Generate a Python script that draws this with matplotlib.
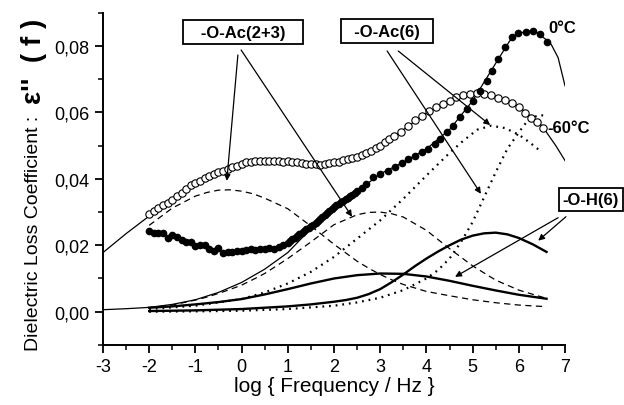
import numpy as np
import matplotlib
matplotlib.use("Agg")
import matplotlib.pyplot as plt
from matplotlib.ticker import MultipleLocator, FuncFormatter, FixedLocator

plt.rcParams['font.family'] = ['Liberation Sans', 'DejaVu Sans']

# measured data, -60 C (open circles)
x_m60 = [-2.0, -1.9, -1.8, -1.7, -1.6, -1.5, -1.4, -1.3, -1.2, -1.1, -1.0, -0.9, -0.8, -0.7, -0.6,
         -0.5, -0.4, -0.3, -0.2, -0.1, 0.0, 0.1, 0.2, 0.3, 0.4, 0.5, 0.6, 0.7, 0.8, 0.9, 1.0, 1.1,
         1.2, 1.3, 1.4, 1.5, 1.6, 1.7, 1.8, 1.9, 2.0, 2.1, 2.2, 2.3, 2.4, 2.5, 2.6, 2.7, 2.8, 2.9,
         3.0, 3.1, 3.2, 3.3, 3.45, 3.6, 3.75, 3.9, 4.05, 4.2, 4.35, 4.5, 4.65, 4.8, 4.95, 5.1, 5.25,
         5.4, 5.55, 5.7, 5.85, 6.0, 6.13, 6.27, 6.4, 6.52]
y_m60 = [0.0295, 0.0302, 0.0313, 0.0320, 0.0326, 0.0336, 0.0348, 0.0358, 0.0370, 0.0382, 0.0389,
         0.0395, 0.0402, 0.0409, 0.0414, 0.0420, 0.0425, 0.0431, 0.0436, 0.0440, 0.0446, 0.0450,
         0.0452, 0.0454, 0.0455, 0.0454, 0.0455, 0.0453, 0.0455, 0.0452, 0.0454, 0.0450, 0.0452,
         0.0448, 0.0446, 0.0444, 0.0446, 0.0443, 0.0446, 0.0448, 0.0450, 0.0452, 0.0456, 0.0460,
         0.0464, 0.0467, 0.0472, 0.0478, 0.0484, 0.0492, 0.0500, 0.0510, 0.0520, 0.0530, 0.0542,
         0.0560, 0.0576, 0.0590, 0.0603, 0.0615, 0.0625, 0.0635, 0.0645, 0.0652, 0.0657, 0.0659,
         0.0656, 0.0651, 0.0643, 0.0636, 0.0628, 0.0615, 0.0597, 0.0582, 0.0572, 0.0552]

# measured data, 0 C (filled circles)
x_0 = [-2.0, -1.9, -1.8, -1.7, -1.6, -1.5, -1.4, -1.3, -1.2, -1.1, -1.0, -0.9, -0.8, -0.7, -0.6,
       -0.5, -0.4, -0.3, -0.2, -0.1, 0.0, 0.1, 0.2, 0.3, 0.4, 0.5, 0.6, 0.7, 0.8, 0.9, 1.0, 1.05,
       1.1, 1.15, 1.2, 1.25, 1.3, 1.35, 1.4, 1.45, 1.5, 1.55, 1.6, 1.65, 1.7, 1.75, 1.8, 1.85, 1.9,
       1.95, 2.0, 2.05, 2.1, 2.15, 2.2, 2.25, 2.3, 2.35, 2.4, 2.45, 2.5, 2.6, 2.7, 2.85, 3.0, 3.17,
       3.32, 3.47, 3.6, 3.75, 3.9, 4.03, 4.19, 4.3, 4.45, 4.58, 4.73, 4.88, 5.0, 5.16, 5.31, 5.42,
       5.55, 5.7, 5.85, 5.98, 6.16, 6.31, 6.46, 6.6]
y_0 = [0.0243, 0.0238, 0.0238, 0.0238, 0.0222, 0.0232, 0.0226, 0.0215, 0.0211, 0.0210, 0.0198,
       0.0201, 0.0200, 0.0190, 0.0183, 0.0192, 0.0177, 0.0180, 0.0180, 0.0182, 0.0184, 0.0186,
       0.0188, 0.0186, 0.0190, 0.0188, 0.0192, 0.0190, 0.0194, 0.0200, 0.0208, 0.0212, 0.0218,
       0.0223, 0.0228, 0.0233, 0.0238, 0.0243, 0.0248, 0.0252, 0.0257, 0.0262, 0.0268, 0.0274,
       0.0279, 0.0285, 0.0290, 0.0296, 0.0302, 0.0308, 0.0315, 0.0320, 0.0324, 0.0329, 0.0333,
       0.0338, 0.0342, 0.0347, 0.0352, 0.0357, 0.0362, 0.0372, 0.0385, 0.0405, 0.0415, 0.0424,
       0.0436, 0.0448, 0.0460, 0.0470, 0.0480, 0.0490, 0.0505, 0.0520, 0.0540, 0.0560, 0.0586,
       0.0610, 0.0635, 0.0665, 0.0695, 0.0725, 0.0760, 0.0797, 0.0827, 0.0839, 0.0842, 0.0845,
       0.0836, 0.0812]

# total fits
xfit_m60 = [-3.0, -2.5, -2.0, -1.5, -1.0, -0.5, 0.0, 0.5, 1.0, 1.5, 2.0, 2.5, 3.0, 3.5, 4.0, 4.5,
            5.0, 5.2, 5.5, 6.0, 6.5, 6.8, 7.0]
yfit_m60 = [0.0178, 0.0235, 0.0288, 0.0338, 0.0385, 0.0420, 0.0444, 0.0453, 0.0452, 0.0445,
            0.0450, 0.0468, 0.0500, 0.0548, 0.0598, 0.0635, 0.0656, 0.0658, 0.0648, 0.0618,
            0.0560, 0.0500, 0.0455]
xfit_0 = [-3.0, -2.5, -2.0, -1.5, -1.0, -0.5, 0.0, 0.5, 1.0, 1.5, 2.0, 2.5, 3.0, 3.5, 4.0, 4.5,
          5.0, 5.5, 5.8, 6.0, 6.2, 6.4, 6.6, 6.7, 6.85, 7.0]
yfit_0 = [0.0006, 0.0009, 0.0013, 0.0022, 0.0036, 0.0058, 0.0088, 0.0128, 0.0178, 0.0250,
          0.0315, 0.0362, 0.0415, 0.0450, 0.0490, 0.0548, 0.0635, 0.0748, 0.0815, 0.0838,
          0.0845, 0.0840, 0.0818, 0.0805, 0.0765, 0.0680]

# components: -O-Ac(2+3)
x_ac23 = [-2.0, -1.5, -1.0, -0.75, -0.5, -0.25, 0.0, 0.25, 0.5, 1.0, 1.5, 2.0, 2.5, 2.75, 3.0,
          3.25, 3.5, 4.0, 4.5, 5.0, 5.5, 6.0, 6.6]
ac23_m60 = [0.0260, 0.0312, 0.0348, 0.0359, 0.0366, 0.0367, 0.0363, 0.0355, 0.0342, 0.0310,
            0.0258, 0.0203, 0.0152, 0.0131, 0.0112, 0.0096, 0.0082, 0.0061, 0.0048, 0.0036,
            0.0027, 0.0020, 0.0015]
ac23_0 = [0.0012, 0.0020, 0.0035, 0.0044, 0.0055, 0.0067, 0.0080, 0.0097, 0.0115, 0.0160,
          0.0210, 0.0262, 0.0292, 0.0299, 0.0300, 0.0295, 0.0285, 0.0245, 0.0190, 0.0138,
          0.0095, 0.0065, 0.0040]

# components: -O-Ac(6)
x_ac6_m60 = [-2.0, -1.0, 0.0, 0.5, 1.0, 1.5, 2.0, 2.5, 3.0, 3.5, 4.0, 4.5, 4.8, 5.1, 5.4, 5.7,
             6.0, 6.25, 6.5]
ac6_m60 = [0.0008, 0.0018, 0.0038, 0.0058, 0.0085, 0.0120, 0.0165, 0.0220, 0.0275, 0.0340,
           0.0410, 0.0478, 0.0515, 0.0548, 0.0560, 0.0553, 0.0533, 0.0508, 0.0480]
x_ac6_0 = [-2.0, -1.0, 0.0, 1.0, 2.0, 2.5, 3.0, 3.5, 4.0, 4.25, 4.5, 4.75, 5.0, 5.25, 5.5,
           5.75, 6.0, 6.15, 6.3, 6.45, 6.6]
ac6_0 = [0.0, 0.0001, 0.0003, 0.0008, 0.0018, 0.0028, 0.0042, 0.0065, 0.0100, 0.0125, 0.0160,
         0.0210, 0.0270, 0.0345, 0.0420, 0.0490, 0.0540, 0.0568, 0.0585, 0.0592, 0.0590]

# components: -O-H(6)
x_oh_m60 = [-2.0, -1.5, -1.0, -0.5, 0.0, 0.5, 1.0, 1.5, 2.0, 2.5, 3.0, 3.5, 4.0, 4.5, 5.0,
            5.5, 6.0, 6.6]
oh_m60 = [0.0012, 0.0016, 0.0022, 0.0029, 0.0038, 0.0052, 0.0068, 0.0085, 0.0100, 0.0110,
          0.0115, 0.0114, 0.0106, 0.0093, 0.0078, 0.0064, 0.0051, 0.0039]
x_oh_0 = [-2.0, -1.0, 0.0, 1.0, 1.5, 2.0, 2.25, 2.5, 2.75, 3.0, 3.25, 3.5, 3.75, 4.0, 4.25, 4.5,
          4.75, 5.0, 5.25, 5.5, 5.75, 6.0, 6.3, 6.6]
oh_0 = [0.0002, 0.0004, 0.0008, 0.0016, 0.0022, 0.0030, 0.0035, 0.0042, 0.0053, 0.0068,
        0.0089, 0.0112, 0.0137, 0.0160, 0.0181, 0.0200, 0.0217, 0.0229, 0.0236, 0.0238,
        0.0233, 0.0222, 0.0203, 0.0180]

fig = plt.figure(figsize=(6.24, 4.06), dpi=100)
ax = fig.add_axes([0.165, 0.148, 0.7405, 0.818])

# components
ax.plot(x_ac23, ac23_m60, color='k', lw=0.9, dashes=(5, 3.5))
ax.plot(x_ac23, ac23_0, color='k', lw=0.9, dashes=(5, 3.5))
ax.plot(x_ac6_m60, ac6_m60, color='k', lw=1.6, linestyle=(0, (0.8, 2.2)))
ax.plot(x_ac6_0, ac6_0, color='k', lw=1.6, linestyle=(0, (0.8, 2.2)))
ax.plot(x_oh_m60, oh_m60, color='k', lw=1.7)
ax.plot(x_oh_0, oh_0, color='k', lw=1.7)

# fits
ax.plot(xfit_m60, yfit_m60, color='k', lw=0.9)
ax.plot(xfit_0, yfit_0, color='k', lw=0.9)

# data
ax.plot(x_m60, y_m60, 'o', ms=5.3, mfc='white', mec='k', mew=0.8)
ax.plot(x_0, y_0, 'o', ms=4.5, mfc='k', mec='k')

ax.set_xlim(-3, 7)
ax.set_ylim(-0.01, 0.09)
ax.xaxis.set_major_locator(MultipleLocator(1))
ax.xaxis.set_minor_locator(MultipleLocator(0.5))
ax.yaxis.set_major_locator(FixedLocator([0.0, 0.02, 0.04, 0.06, 0.08]))
ax.yaxis.set_minor_locator(FixedLocator([-0.01, 0.01, 0.03, 0.05, 0.07, 0.09]))
ax.yaxis.set_major_formatter(FuncFormatter(lambda v, p: ('%.2f' % v).replace('.', ',')))
ax.xaxis.set_major_formatter(FuncFormatter(lambda v, p: '%d' % v))

for s in ['top', 'right']:
    ax.spines[s].set_visible(False)
for s in ['left', 'bottom']:
    ax.spines[s].set_linewidth(1.4)
ax.tick_params(which='major', direction='out', length=6, width=1.3, labelsize=13)
ax.tick_params(which='minor', direction='out', length=3.5, width=1.1)

ax.set_xlabel('log { Frequency / Hz }', fontsize=15, labelpad=1)

# y label in two parts
fig.text(0.053, 0.425, 'Dielectric Loss Coefficient :', rotation=90, fontsize=14,
         ha='center', va='center')
fig.text(0.055, 0.848, "ε''  ( f )", rotation=90, fontsize=20, fontweight='bold',
         ha='center', va='center')

# boxed labels
bbox = dict(boxstyle='square,pad=0.25', fc='white', ec='k', lw=1.3)
ax.text(0.03, 0.0842, '   -O-Ac(2+3)   ', fontsize=12, fontweight='bold',
        ha='center', va='center', bbox=bbox)
ax.text(3.15, 0.0845, '  -O-Ac(6)  ', fontsize=12, fontweight='bold',
        ha='center', va='center', bbox=bbox)
ax.text(7.56, 0.0337, '-O-H(6)', fontsize=12, fontweight='bold',
        ha='center', va='center', bbox=bbox, clip_on=False)

ap = dict(arrowstyle='-|>', color='k', lw=0.9, mutation_scale=9, shrinkA=0, shrinkB=0)
arrows = [((-0.08, 0.0773), (-0.32, 0.0394)),
          ((-0.01, 0.0788), (2.39, 0.0286)),
          ((3.15, 0.0785), (5.18, 0.0355)),
          ((3.39, 0.0785), (5.38, 0.0562)),
          ((6.85, 0.0283), (4.62, 0.0105)),
          ((7.02, 0.0286), (6.42, 0.0214))]
for start, tip in arrows:
    ax.annotate('', xy=tip, xytext=start, arrowprops=ap, annotation_clip=False)

ax.text(6.63, 0.0857, '0°C', fontsize=12, fontweight='bold', ha='left', va='center')
ax.text(6.62, 0.0556, '-60°C', fontsize=12, fontweight='bold', ha='left', va='center')

fig.savefig('out.png', dpi=100)
